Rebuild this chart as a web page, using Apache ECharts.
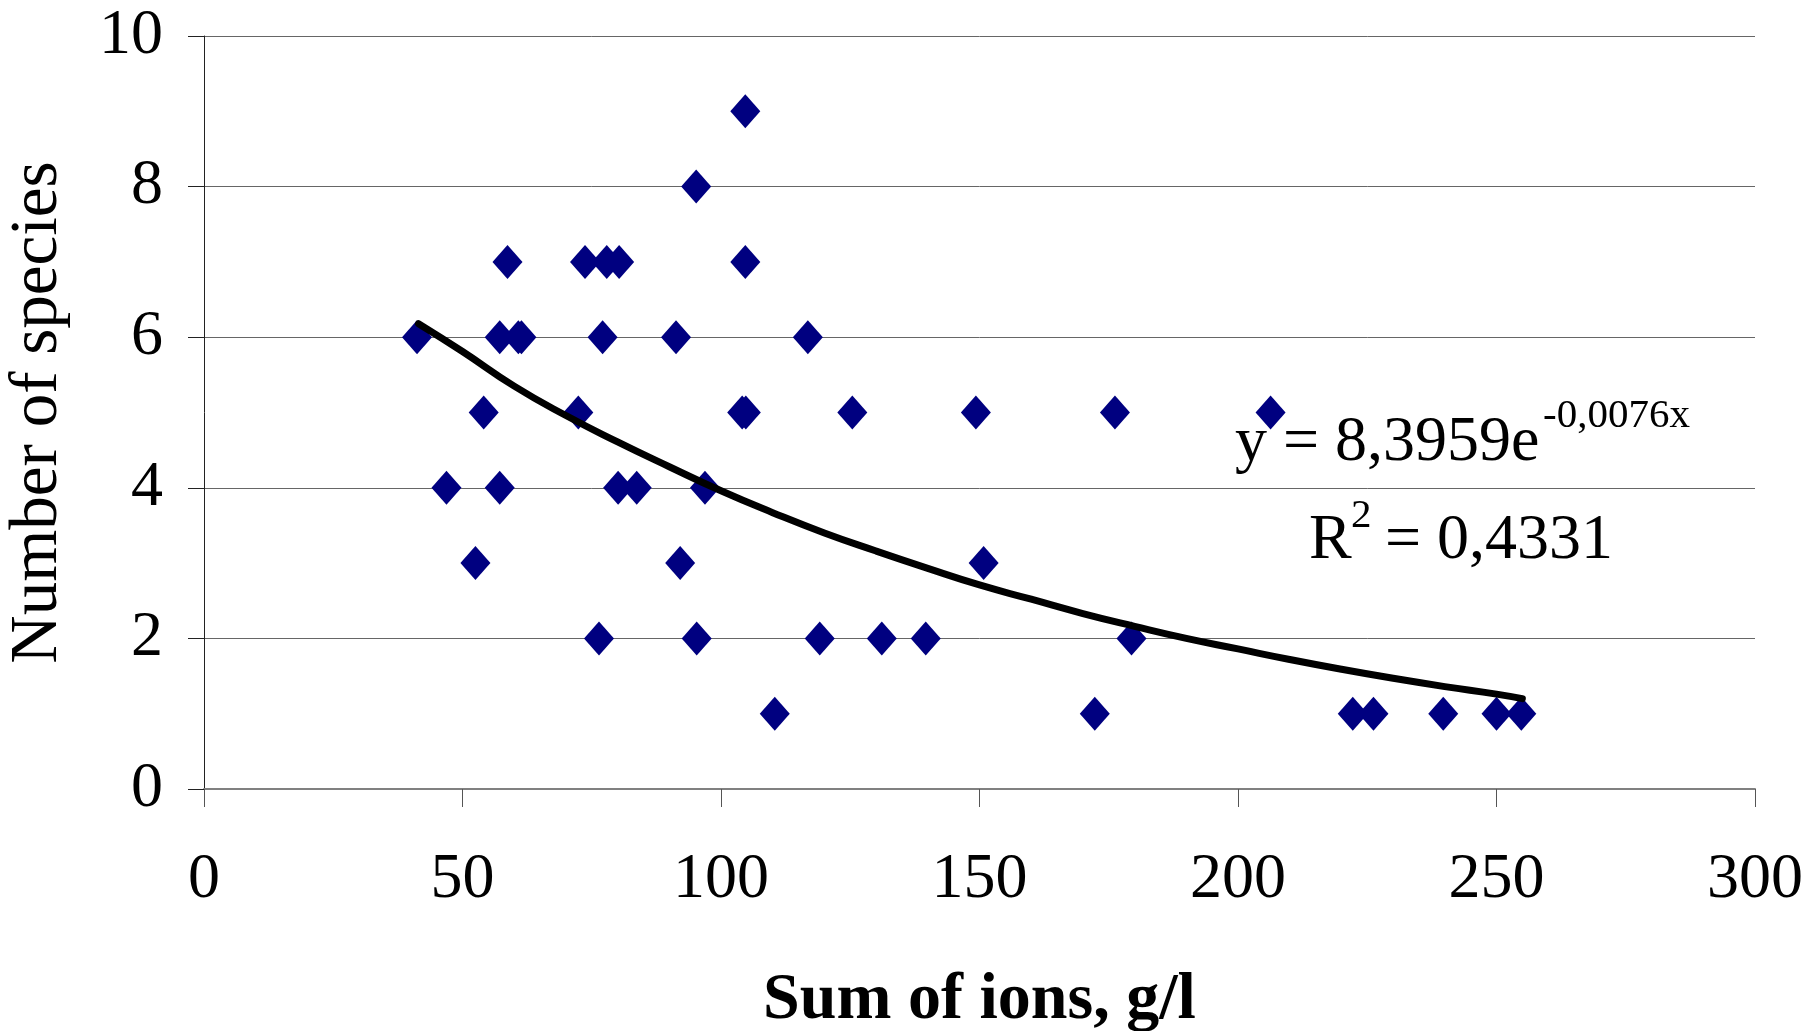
<!DOCTYPE html>
<html>
<head>
<meta charset="utf-8">
<script src="https://cdn.jsdelivr.net/npm/echarts@6/dist/echarts.min.js"></script>
<style>
html,body{margin:0;padding:0;background:#fff;}
#chart{width:1806px;height:1031px;}
</style>
</head>
<body>
<div id="chart"></div>
<script>
// Observed points: sum of ions (g/l) and number of species
const sumIons = [41.2, 46.9, 52.5, 54.1, 57.2, 57.2, 58.7, 60.8, 61.4, 72.4, 73.7, 76.4, 77.1, 77.9, 80.3, 80.1, 83.7,
  91.3, 92.1, 95.2, 95.3, 96.9, 104.7, 104.7, 104.1, 104.8, 110.4, 116.8, 119.1, 125.4, 131.1, 139.6,
  149.3, 150.8, 172.3, 176.2, 179.4, 206.3, 222.2, 226.2, 239.7, 250.0, 254.8];
const species = [6, 4, 3, 5, 6, 4, 7, 6, 6, 5, 7, 2, 6, 7, 7, 4, 4,
  6, 3, 8, 2, 4, 9, 7, 5, 5, 1, 6, 2, 5, 2, 2,
  5, 3, 1, 5, 2, 5, 1, 1, 1, 1, 1];

// Trend line
const trendX = [41.5, 50, 60, 70, 80, 90, 100, 110, 120, 130, 140, 150, 160, 170, 180, 190, 200, 210, 220, 230, 240, 250, 255];
const trendY = [6.18, 5.81, 5.35, 4.96, 4.61, 4.28, 3.96, 3.67, 3.40, 3.16, 2.93, 2.71, 2.52, 2.33, 2.16, 2.00, 1.86, 1.72, 1.59, 1.47, 1.36, 1.26, 1.20];

const xTicks = [0, 50, 100, 150, 200, 250, 300];
const yTicks = [0, 2, 4, 6, 8, 10];

const eqMain = 'y = 8,3959e';
const eqExp = '-0,0076x';
const r2Main = 'R';
const r2Sup = '2';
const r2Val = '= 0,4331';

const FONT = "'Liberation Serif', 'Times New Roman', serif";

const chart = echarts.init(document.getElementById('chart'), null, {renderer: 'canvas'});

const scatterData = sumIons.map((x, i) => [x, species[i]]);
const trendData = trendX.map((x, i) => [x, trendY[i]]);

chart.setOption({
  animation: false,
  backgroundColor: '#ffffff',
  grid: {left: 204, right: 51, top: 36, bottom: 242, containLabel: false, outerBoundsMode: 'none'},
  xAxis: {
    type: 'value',
    min: xTicks[0], max: xTicks[xTicks.length - 1], interval: 50,
    name: 'Sum of ions, g/l',
    nameLocation: 'middle',
    nameGap: 179,
    nameTextStyle: {fontFamily: FONT, fontSize: 66, fontWeight: 'bold', color: '#000'},
    axisLine: {show: true, onZero: false, lineStyle: {color: '#808080', width: 2}},
    axisTick: {show: true, inside: false, length: 18, lineStyle: {color: '#555', width: 1}},
    axisLabel: {fontFamily: FONT, fontSize: 64, color: '#000', margin: 59},
    splitLine: {show: false}
  },
  yAxis: {
    type: 'value',
    min: yTicks[0], max: yTicks[yTicks.length - 1], interval: 2,
    name: 'Number of species',
    nameLocation: 'middle',
    nameRotate: 90,
    nameGap: 132,
    nameTextStyle: {fontFamily: FONT, fontSize: 67, color: '#000'},
    axisLine: {show: true, lineStyle: {color: '#222', width: 1}},
    axisTick: {show: true, inside: false, length: 16, lineStyle: {color: '#222', width: 1}},
    axisLabel: {fontFamily: FONT, fontSize: 64, color: '#000', margin: 41},
    splitLine: {show: true, lineStyle: {color: '#666', width: 1}}
  },
  series: [
    {
      type: 'scatter',
      data: scatterData,
      symbol: 'diamond',
      symbolSize: [30, 34],
      itemStyle: {color: '#000080', opacity: 1},
      z: 2
    },
    {
      type: 'line',
      data: trendData,
      smooth: true,
      showSymbol: false,
      symbol: 'none',
      lineStyle: {color: '#000', width: 7, cap: 'round', join: 'round'},
      z: 3
    }
  ],
  graphic: [
    {type: 'text', x: 1235, y: 443, z: 10,
      style: {text: eqMain, fill: '#000', font: "64px " + FONT, align: 'left', verticalAlign: 'middle'}},
    {type: 'text', x: 1543, y: 416, z: 10,
      style: {text: eqExp, fill: '#000', font: "41px " + FONT, align: 'left', verticalAlign: 'middle'}},
    {type: 'text', x: 1309, y: 541, z: 10,
      style: {text: r2Main, fill: '#000', font: "64px " + FONT, align: 'left', verticalAlign: 'middle'}},
    {type: 'text', x: 1351, y: 516, z: 10,
      style: {text: r2Sup, fill: '#000', font: "41px " + FONT, align: 'left', verticalAlign: 'middle'}},
    {type: 'text', x: 1385, y: 541, z: 10,
      style: {text: r2Val, fill: '#000', font: "64px " + FONT, align: 'left', verticalAlign: 'middle'}}
  ]
});
</script>
</body>
</html>
